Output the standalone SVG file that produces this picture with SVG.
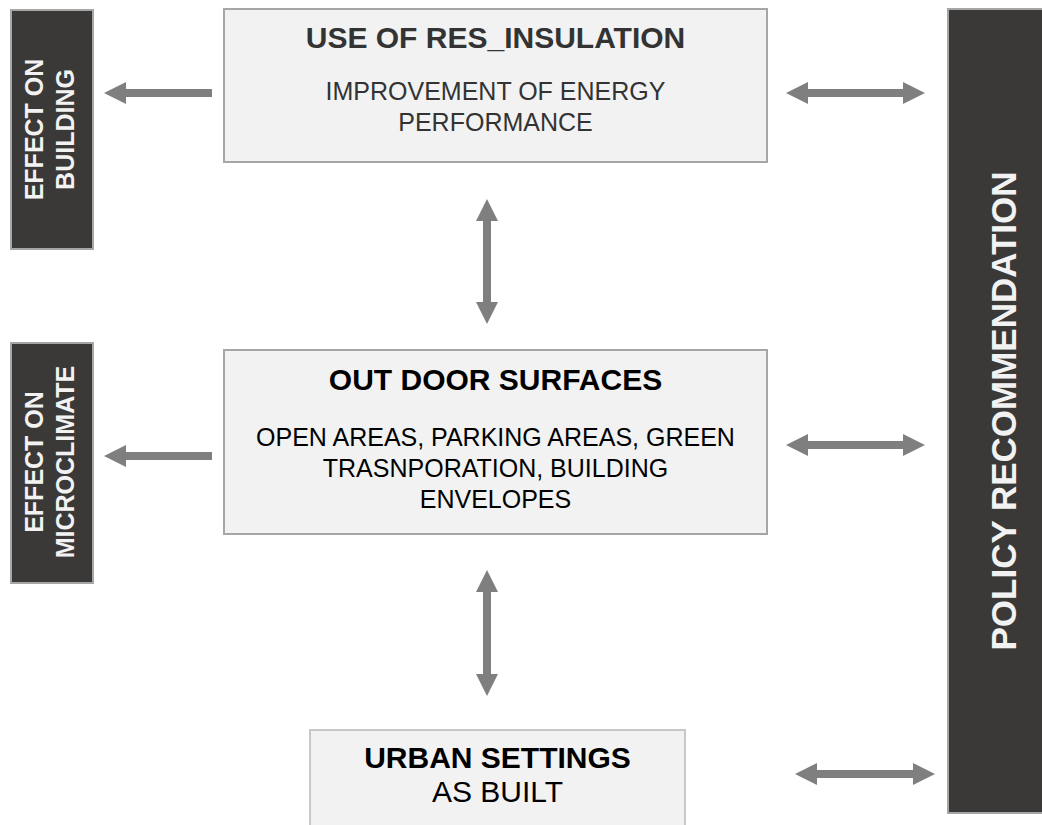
<svg xmlns="http://www.w3.org/2000/svg" width="1042" height="825" viewBox="0 0 1042 825">
<style>
.light{fill:#f2f2f2;stroke:#a6a6a6;stroke-width:2}
.dark{fill:#3a3938;stroke:#a6a6a6;stroke-width:2}
.arrow{fill:#7f7f7f}
text{font-family:"Liberation Sans",Arial,sans-serif;text-anchor:middle}
.t{font-weight:bold;font-size:30px}
.s{font-size:25px}
.w{fill:#f2f2f2;font-weight:bold;font-size:25px}
.g{fill:#333333}
.k{fill:#000000}
</style>
<rect width="1042" height="825" fill="#ffffff"/>
<g id="effect-building">
<rect class="dark" x="11" y="10" width="82" height="239"/>
<text class="w" transform="translate(43,129.5) rotate(-90)">EFFECT ON</text>
<text class="w" transform="translate(74,129.5) rotate(-90)">BUILDING</text>
</g>
<g id="effect-microclimate">
<rect class="dark" x="11" y="343" width="82" height="240"/>
<text class="w" transform="translate(43,462) rotate(-90)">EFFECT ON</text>
<text class="w" transform="translate(74,462) rotate(-90)">MICROCLIMATE</text>
</g>
<g id="use-res-insulation">
<rect class="light" x="224" y="9" width="543" height="153"/>
<text class="t g" x="495.5" y="48">USE OF RES_INSULATION</text>
<text class="s g" x="495.5" y="100">IMPROVEMENT OF ENERGY</text>
<text class="s g" x="495.5" y="130.5">PERFORMANCE</text>
</g>
<g id="out-door-surfaces">
<rect class="light" x="224" y="350" width="543" height="184"/>
<text class="t k" x="495.5" y="390">OUT DOOR SURFACES</text>
<text class="s k" x="495.5" y="446">OPEN AREAS, PARKING AREAS, GREEN</text>
<text class="s k" x="495.5" y="477">TRASNPORATION, BUILDING</text>
<text class="s k" x="495.5" y="508">ENVELOPES</text>
</g>
<g id="urban-settings">
<rect x="310" y="730" width="375" height="110" fill="#f2f2f2" stroke="#c8c8c8" stroke-width="2"/>
<text class="t k" x="497.5" y="768">URBAN SETTINGS</text>
<text class="k" x="497.5" y="802" style="font-size:30px">AS BUILT</text>
</g>
<g id="policy-recommendation">
<rect class="dark" x="948" y="9" width="120" height="804"/>
<text class="w" style="font-size:35px" transform="translate(1016,411) rotate(-90)">POLICY RECOMMENDATION</text>
</g>
<g id="connectors">
<polygon class="arrow" points="104,93 126,82 126,89 212,89 212,97 126,97 126,104"/>
<polygon class="arrow" points="104,456 126,445 126,452 212,452 212,460 126,460 126,467"/>
<polygon class="arrow" points="786,93 808,82 808,89 903,89 903,82 925,93 903,104 903,97 808,97 808,104"/>
<polygon class="arrow" points="786,445 808,434 808,441 903,441 903,434 925,445 903,456 903,449 808,449 808,456"/>
<polygon class="arrow" points="795,774 817,763 817,770 913,770 913,763 935,774 913,785 913,778 817,778 817,785"/>
<polygon class="arrow" points="487,199 498,221 491,221 491,302 498,302 487,324 476,302 483,302 483,221 476,221"/>
<polygon class="arrow" points="487,570 498,592 491,592 491,674 498,674 487,696 476,674 483,674 483,592 476,592"/>
</g>
</svg>
